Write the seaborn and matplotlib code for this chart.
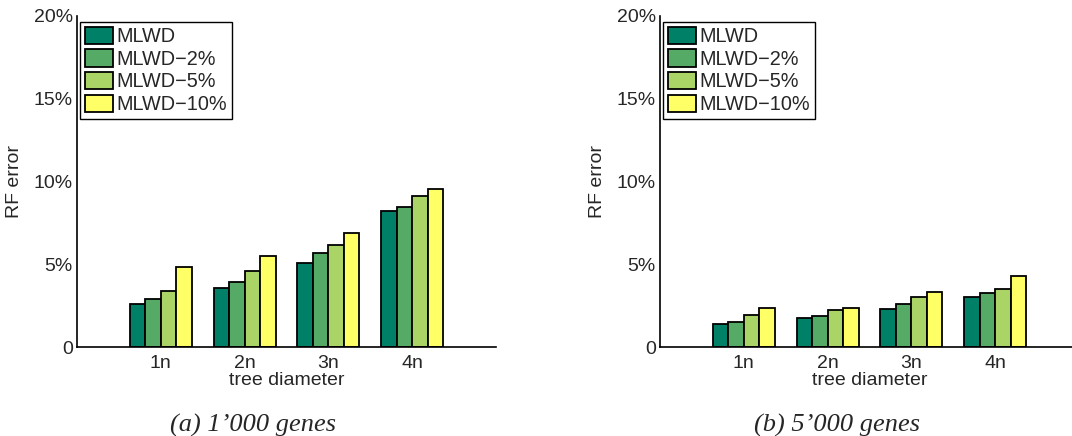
import numpy as np
import pandas as pd
import matplotlib
matplotlib.use("Agg")
import matplotlib.pyplot as plt
import seaborn as sns

categories = ["1n", "2n", "3n", "4n"]
methods = ["MLWD", "MLWD\u22122%", "MLWD\u22125%", "MLWD\u221210%"]
# RF error (%) for 1'000 genes
genes1000 = {
    "MLWD": [2.60, 3.58, 5.09, 8.22],
    "MLWD\u22122%": [2.89, 3.94, 5.68, 8.48],
    "MLWD\u22125%": [3.41, 4.60, 6.16, 9.13],
    "MLWD\u221210%": [4.83, 5.52, 6.89, 9.52],
}
# RF error (%) for 5'000 genes
genes5000 = {
    "MLWD": [1.38, 1.78, 2.30, 3.05],
    "MLWD\u22122%": [1.53, 1.90, 2.60, 3.27],
    "MLWD\u22125%": [1.96, 2.24, 3.03, 3.53],
    "MLWD\u221210%": [2.36, 2.38, 3.31, 4.32],
}
palette = ["#008066", "#55AA66", "#AAD466", "#FFFF66"]
captions = ["(a) 1\u2019000 genes", "(b) 5\u2019000 genes"]
yticks = [0, 5, 10, 15, 20]
yticklabels = ["0", "5%", "10%", "15%", "20%"]

sns.set_style("white")
plt.rcParams["font.family"] = ["Liberation Sans", "DejaVu Sans"]

fig = plt.figure(figsize=(10.72, 4.36), dpi=100)
axes = [fig.add_axes([77 / 1072, 89 / 436, 419 / 1072, 331 / 436]),
        fig.add_axes([660 / 1072, 89 / 436, 419 / 1072, 331 / 436])]

for ax, data, cap, cx in zip(axes, [genes1000, genes5000], captions, [253, 837]):
    rows = []
    for m in methods:
        for c, v in zip(categories, data[m]):
            rows.append({"diam": c, "method": m, "err": v})
    df = pd.DataFrame(rows)
    sns.barplot(data=df, x="diam", y="err", hue="method", hue_order=methods,
                order=categories, palette=palette, width=0.74, ax=ax,
                edgecolor="black", linewidth=1.3, errorbar=None, saturation=1)
    ax.set_xlim(-1, 4)
    ax.set_ylim(0, 20)
    ax.set_yticks(yticks)
    ax.set_yticklabels(yticklabels, fontsize=14)
    ax.tick_params(axis="x", labelsize=14, length=0, pad=6)
    ax.tick_params(axis="y", length=0, pad=3)
    ax.set_xlabel("tree diameter", fontsize=14, labelpad=0)
    ax.set_ylabel("RF error", fontsize=14, labelpad=8)
    for s in ["top", "right"]:
        ax.spines[s].set_visible(False)
    for s in ["left", "bottom"]:
        ax.spines[s].set_color("black")
        ax.spines[s].set_linewidth(1.2)
    leg = ax.legend(loc="upper left", bbox_to_anchor=(0.008, 0.982), fontsize=14.3,
                    frameon=True, fancybox=False, framealpha=1, edgecolor="black",
                    handlelength=1.4, handleheight=0.95, handletextpad=0.15,
                    labelspacing=0.16, borderpad=0.25, borderaxespad=0)
    leg.get_frame().set_linewidth(1.0)
    fig.text(cx / 1072, 1 - 425 / 436, cap, ha="center", va="center",
             fontsize=19, style="italic", family=["Liberation Serif", "DejaVu Serif"])

fig.savefig("out.png", dpi=100)
